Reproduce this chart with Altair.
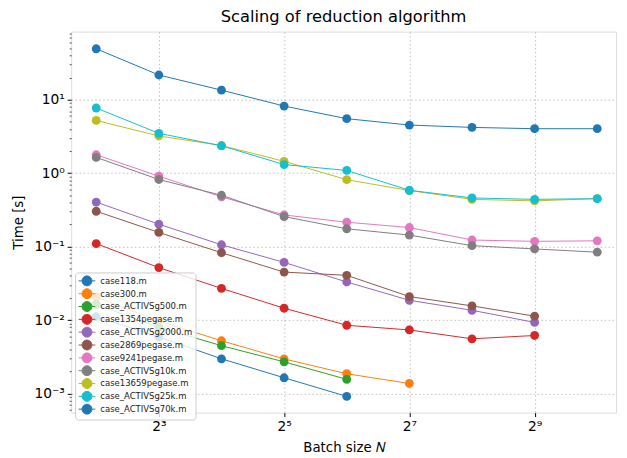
import math
import altair as alt
import pandas as pd

batch_sizes = [4, 8, 16, 32, 64, 128, 256, 512, 1024]

case_names = [
    "case118.m", "case300.m", "case_ACTIVSg500.m", "case1354pegase.m",
    "case_ACTIVSg2000.m", "case2869pegase.m", "case9241pegase.m",
    "case_ACTIVSg10k.m", "case13659pegase.m", "case_ACTIVSg25k.m",
    "case_ACTIVSg70k.m",
]

case118 = [0.0111, 0.0059, 0.00297, 0.00164, 0.000914, None, None, None, None]
case300 = [0.0206, 0.0097, 0.00523, 0.00296, 0.00186, 0.00137, None, None, None]
case500 = [0.0163, 0.0080, 0.00448, 0.0027, 0.00156, None, None, None, None]
case1354 = [0.110, 0.0518, 0.027, 0.0145, 0.0085, 0.00734, 0.00556, 0.00617, None]
case2000 = [0.404, 0.202, 0.106, 0.061, 0.033, 0.0186, 0.0136, 0.0093, None]
case2869 = [0.303, 0.156, 0.0826, 0.045, 0.0407, 0.0209, 0.0156, 0.0113, None]
case9241 = [1.78, 0.91, 0.476, 0.27, 0.215, 0.182, 0.123, 0.118, 0.12]
case10k = [1.64, 0.82, 0.50, 0.256, 0.175, 0.1435, 0.103, 0.093, 0.084]
case13659 = [5.22, 3.21, 2.38, 1.45, 0.815, 0.58, 0.44, 0.42, 0.45]
case25k = [7.71, 3.49, 2.36, 1.31, 1.09, 0.585, 0.46, 0.44, 0.45]
case70k = [49.4, 21.7, 13.5, 8.2, 5.52, 4.52, 4.2, 4.03, 4.03]

series = [case118, case300, case500, case1354, case2000, case2869,
          case9241, case10k, case13659, case25k, case70k]

colors = ["#1f77b4", "#ff7f0e", "#2ca02c", "#d62728", "#9467bd", "#8c564b",
          "#e377c2", "#7f7f7f", "#bcbd22", "#17becf", "#1f77b4"]

x_ticks = [8, 32, 128, 512]
y_major = [0.001, 0.01, 0.1, 1, 10]
y_minor = [m * 10.0 ** k for k in range(-4, 2) for m in range(2, 10)]
y_minor = [v for v in y_minor if 5.5e-4 <= v <= 84]

rows = []
for idx, (name, vals) in enumerate(zip(case_names, series)):
    for n, t in zip(batch_sizes, vals):
        if t is not None:
            rows.append({"case": name, "order": idx, "N": n, "time": t})
df = pd.DataFrame(rows)

FONT = "DejaVu Sans"

# legend glyph: short line through a disc (polygonal circle for tight bounds)
pts = [(math.cos(2 * math.pi * i / 24), math.sin(2 * math.pi * i / 24)) for i in range(24)]
circle_path = "M" + "L".join(f"{px:.3f},{py:.3f}" for px, py in pts) + "Z"
legend_symbol = "M-1.7,0H-1" + circle_path + "M1,0H1.7"

color = alt.Color(
    "case:N",
    scale=alt.Scale(domain=case_names, range=colors),
    sort=case_names,
    legend=alt.Legend(
        title=None,
        orient="none",
        legendX=4,
        legendY=244,
        fillColor="rgba(255,255,255,0.8)",
        strokeColor="#cccccc",
        cornerRadius=3,
        padding=3,
        labelFont=FONT,
        labelFontSize=8.6,
        labelColor="#222222",
        labelOffset=8,
        symbolOffset=3.5,
        symbolType=legend_symbol,
        symbolSize=100,
        symbolStrokeWidth=1,
        rowPadding=-2.7,
    ),
)

is_major = "abs(log(datum.value)/LN10 - round(log(datum.value)/LN10)) < 1e-6"
e = "round(log(datum.value)/LN10)"
y_label = (
    f"({is_major}) ? ({e} == 1 ? '10¹' : {e} == 0 ? '10⁰' : {e} == -1 ? '10⁻¹' : "
    f"{e} == -2 ? '10⁻²' : {e} == -3 ? '10⁻³' : '') : ''"
)
l2 = "round(log(datum.value)/LN2)"
x_label = f"{l2} == 3 ? '2³' : {l2} == 5 ? '2⁵' : {l2} == 7 ? '2⁷' : {l2} == 9 ? '2⁹' : ''"

x = alt.X(
    "N:Q",
    scale=alt.Scale(type="log", base=2, domain=[2 ** 1.6, 2 ** 10.3], nice=False),
    axis=alt.Axis(
        title="Batch size 𝑁",
        values=x_ticks,
        labelExpr=x_label,
        grid=True,
        gridDash=[1.5, 2.5],
        gridColor="#b0b0b0",
        gridWidth=0.8,
        tickSize=4,
        tickColor="black",
        domain=False,
        labelFont=FONT,
        labelFontSize=14,
        labelColor="black",
        labelPadding=3,
        titleFont=FONT,
        titleFontSize=13.5,
        titleFontWeight="normal",
        titleColor="black",
        titlePadding=7,
    ),
)

y = alt.Y(
    "time:Q",
    scale=alt.Scale(type="log", domain=[10 ** -3.26, 10 ** 1.927], nice=False),
    axis=alt.Axis(
        title="Time [s]",
        values=y_major + y_minor,
        labelExpr=y_label,
        grid=True,
        gridDash=[1.5, 2.5],
        gridColor="#b0b0b0",
        gridWidth=0.8,
        gridOpacity={"condition": {"test": is_major, "value": 1}, "value": 0},
        tickSize={"condition": {"test": is_major, "value": 4}, "value": 2},
        tickWidth={"condition": {"test": is_major, "value": 1}, "value": 0.7},
        tickColor="black",
        domain=False,
        labelFont=FONT,
        labelFontSize=14,
        labelColor="black",
        labelPadding=3,
        labelOverlap=False,
        titleFont=FONT,
        titleFontSize=13.5,
        titleFontWeight="normal",
        titleColor="black",
        titlePadding=8,
    ),
)

base = alt.Chart(df)
lines = base.mark_line(strokeWidth=1).encode(x=x, y=y, color=color, detail="case:N", order="N:Q")
points = base.mark_circle(size=80, opacity=1).encode(x=x, y=y, color=color)

chart = (
    alt.layer(lines, points)
    .properties(
        width=552,
        height=386,
        title=alt.Title(
            "Scaling of reduction algorithm",
            font=FONT,
            fontSize=16.5,
            fontWeight="normal",
            color="black",
            offset=1,
        ),
        autosize=alt.AutoSizeParams(type="none"),
        padding={"left": 64, "top": 21, "right": 3, "bottom": 41},
    )
    .configure_view(stroke="black", strokeWidth=1)
    .configure(background="white")
)

chart.save("out.html", embed_options={"renderer": "svg", "actions": False})
